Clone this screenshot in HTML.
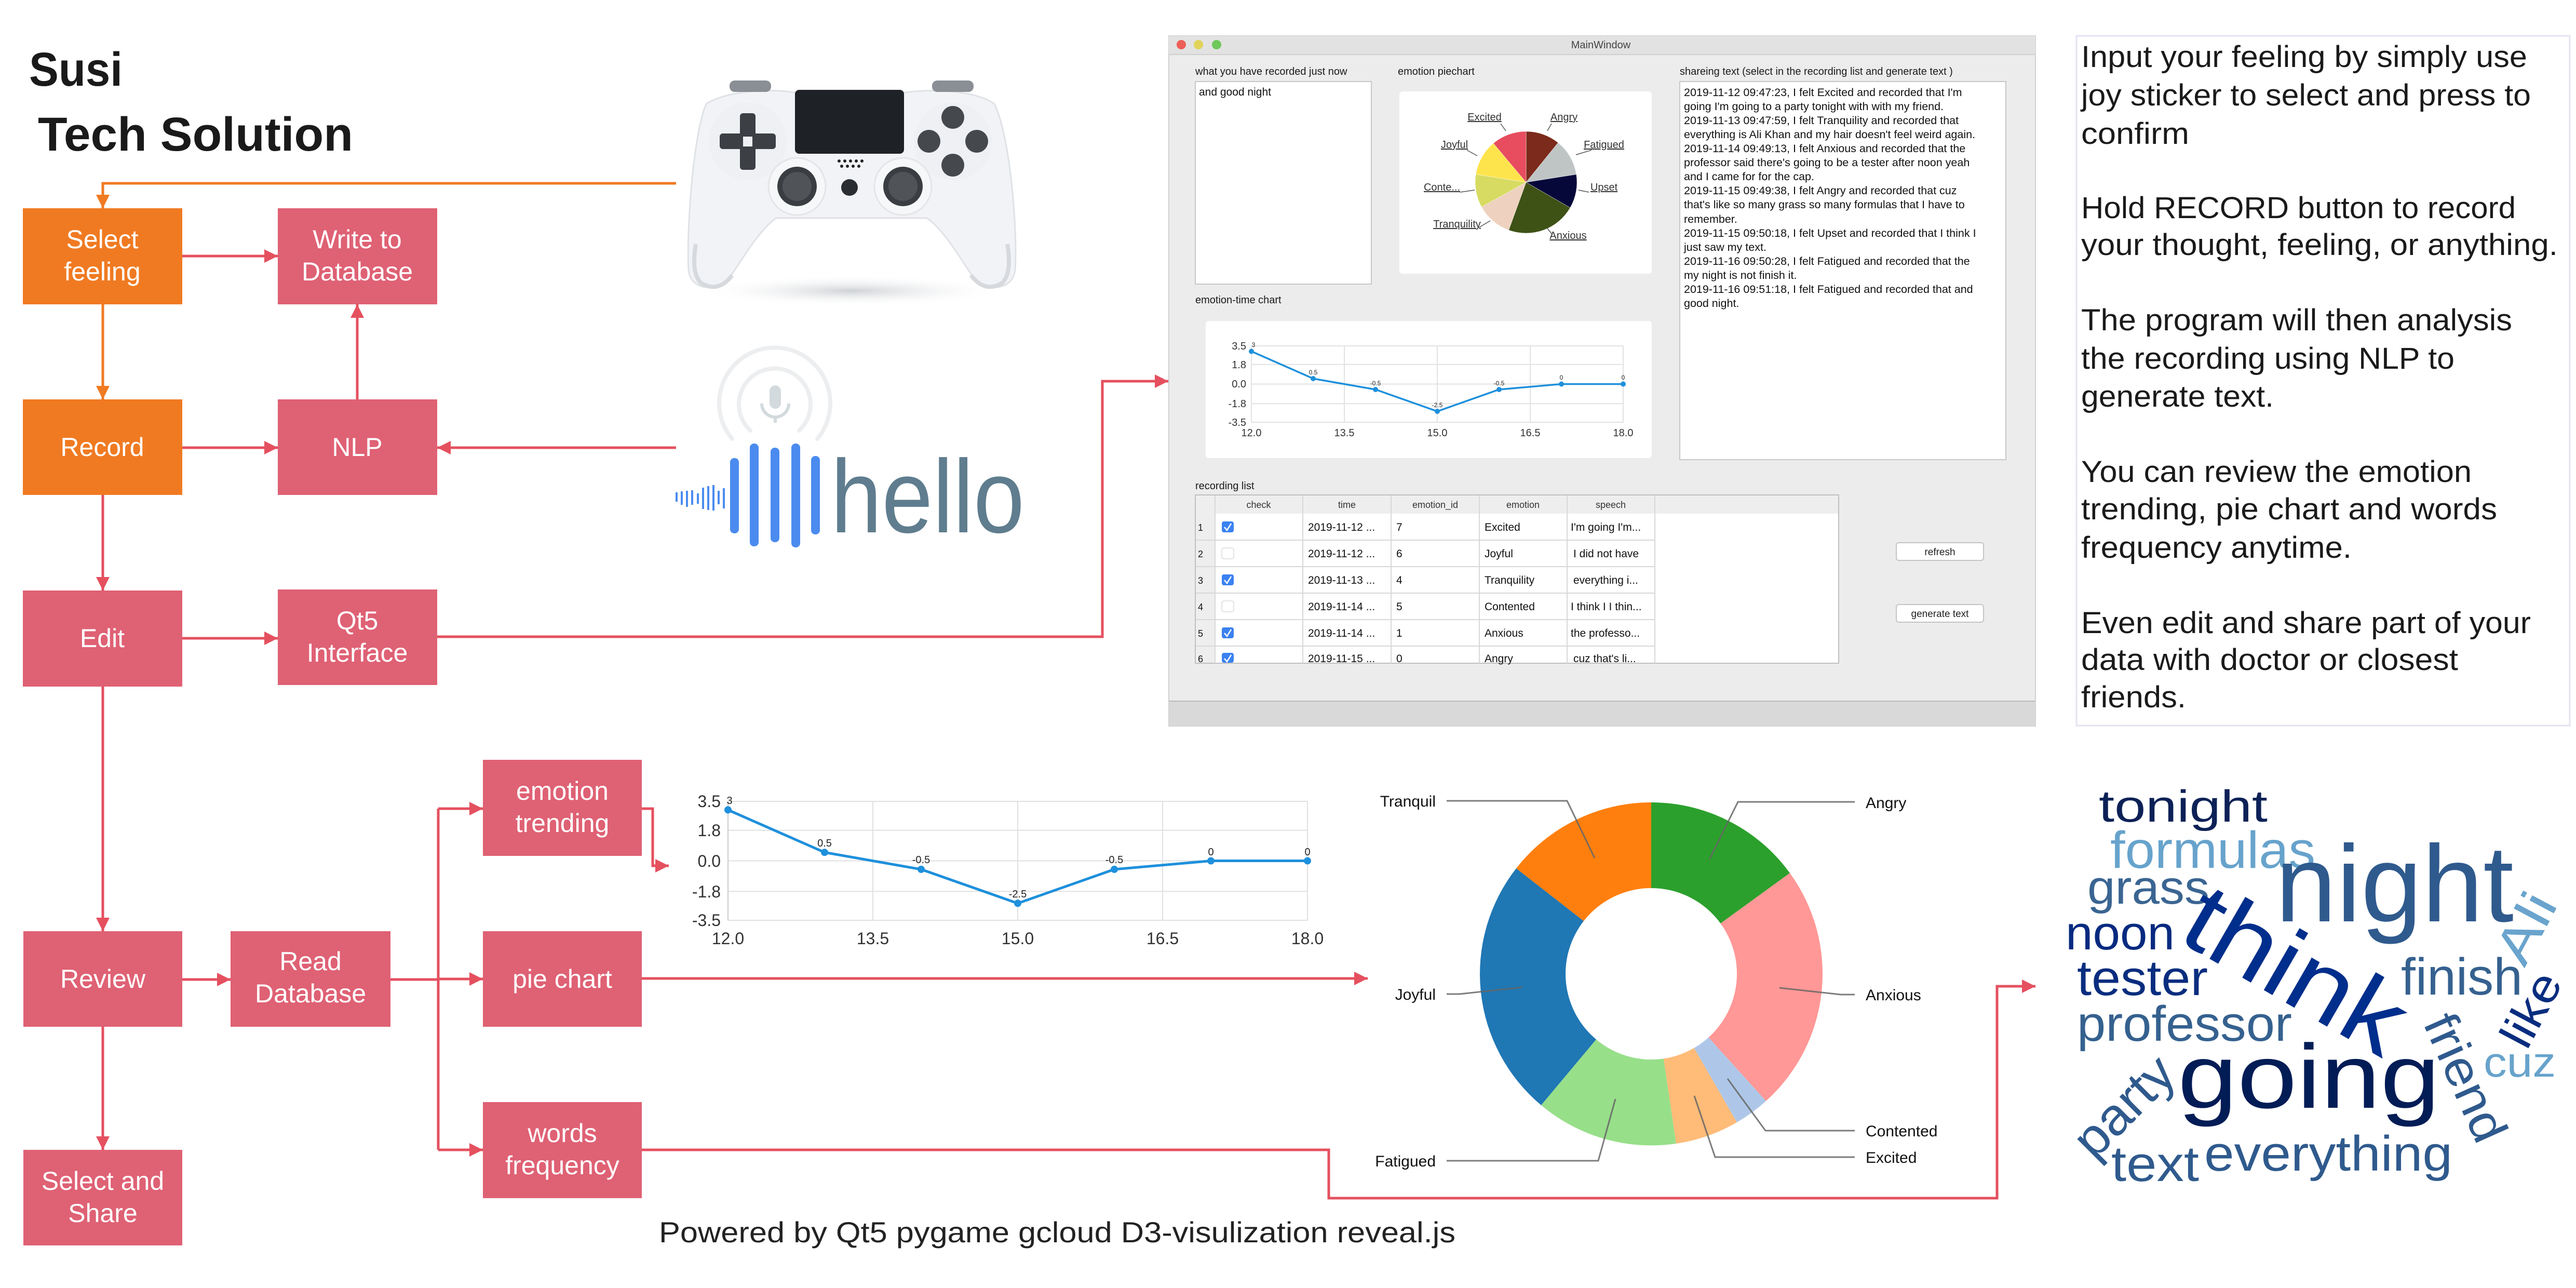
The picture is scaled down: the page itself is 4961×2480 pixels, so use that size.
<!DOCTYPE html>
<html><head><meta charset="utf-8"><style>
html,body{margin:0;padding:0;background:#fff;}
svg{display:block;}
text{font-family:"Liberation Sans",sans-serif;}
</style></head><body>
<svg width="4961" height="2480" viewBox="0 0 4961 2480" xmlns="http://www.w3.org/2000/svg">
<defs>
<marker id="ap" viewBox="0 0 10 10" refX="10" refY="5" markerWidth="26" markerHeight="30" markerUnits="userSpaceOnUse" orient="auto"><path d="M0,0L10,5L0,10z" fill="#e5505f"/></marker>
<marker id="ao" viewBox="0 0 10 10" refX="10" refY="5" markerWidth="26" markerHeight="30" markerUnits="userSpaceOnUse" orient="auto"><path d="M0,0L10,5L0,10z" fill="#f07a22"/></marker>
<radialGradient id="sh" cx="0.5" cy="0.5" r="0.5"><stop offset="0" stop-color="#cfd2d6"/><stop offset="1" stop-color="#fff" stop-opacity="0"/></radialGradient>
</defs>

<!-- Title -->
<text x="56" y="165" font-size="92" font-weight="bold" fill="#1a1a1a" textLength="180" lengthAdjust="spacingAndGlyphs">Susi</text>
<text x="73" y="290" font-size="92" font-weight="bold" fill="#1a1a1a" textLength="607" lengthAdjust="spacingAndGlyphs">Tech Solution</text>

<!-- Connectors -->
<g fill="none" stroke-width="5">
<polyline points="1302,353 198,353 198,401" stroke="#f07a22" marker-end="url(#ao)"/>
<polyline points="198,586 198,769" stroke="#f07a22" marker-end="url(#ao)"/>
<g stroke="#e5505f">
<polyline points="351,493 535,493" marker-end="url(#ap)"/>
<polyline points="688,769 688,586" marker-end="url(#ap)"/>
<polyline points="351,862 535,862" marker-end="url(#ap)"/>
<polyline points="1302,862 842,862" marker-end="url(#ap)"/>
<polyline points="198,953 198,1137" marker-end="url(#ap)"/>
<polyline points="351,1229 535,1229" marker-end="url(#ap)"/>
<polyline points="842,1226 2123,1226 2123,734 2250,734" marker-end="url(#ap)"/>
<polyline points="198,1322 198,1793" marker-end="url(#ap)"/>
<polyline points="198,1977 198,2214" marker-end="url(#ap)"/>
<polyline points="351,1886 444,1886" marker-end="url(#ap)"/>
<polyline points="752,1886 844,1886"/>
<polyline points="844,1557 844,2214"/>
<polyline points="844,1557 930,1557" marker-end="url(#ap)"/>
<polyline points="844,1885 930,1885" marker-end="url(#ap)"/>
<polyline points="844,2214 930,2214" marker-end="url(#ap)"/>
<polyline points="1236,1557 1257,1557 1257,1667 1288,1667" marker-end="url(#ap)"/>
<polyline points="1236,1884 2634,1884" marker-end="url(#ap)"/>
<polyline points="1236,2214 2559,2214 2559,2307 3846,2307 3846,1899 3920,1899" marker-end="url(#ap)"/>
</g>
</g>

<!-- Boxes -->
<g font-size="50" fill="#fff" text-anchor="middle">
<rect x="44" y="401" width="307" height="185" fill="#f07a22"/>
<text x="197" y="478">Select</text><text x="197" y="540">feeling</text>
<rect x="535" y="401" width="307" height="185" fill="#df6174"/>
<text x="688" y="478">Write to</text><text x="688" y="540">Database</text>
<rect x="44" y="769" width="307" height="184" fill="#f07a22"/>
<text x="197" y="878">Record</text>
<rect x="535" y="769" width="307" height="184" fill="#df6174"/>
<text x="688" y="878">NLP</text>
<rect x="44" y="1137" width="307" height="185" fill="#df6174"/>
<text x="197" y="1246">Edit</text>
<rect x="535" y="1135" width="307" height="184" fill="#df6174"/>
<text x="688" y="1212">Qt5</text><text x="688" y="1274">Interface</text>
<rect x="45" y="1793" width="306" height="184" fill="#df6174"/>
<text x="198" y="1902">Review</text>
<rect x="444" y="1793" width="308" height="184" fill="#df6174"/>
<text x="598" y="1868">Read</text><text x="598" y="1930">Database</text>
<rect x="930" y="1463" width="306" height="185" fill="#df6174"/>
<text x="1083" y="1540">emotion</text><text x="1083" y="1602">trending</text>
<rect x="930" y="1793" width="306" height="184" fill="#df6174"/>
<text x="1083" y="1902">pie chart</text>
<rect x="930" y="2122" width="306" height="185" fill="#df6174"/>
<text x="1083" y="2199">words</text><text x="1083" y="2261">frequency</text>
<rect x="45" y="2214" width="306" height="184" fill="#df6174"/>
<text x="198" y="2291">Select and</text><text x="198" y="2353">Share</text>
</g>

<!-- Controller -->
<ellipse cx="1640" cy="560" rx="300" ry="30" fill="url(#sh)"/>
<path d="M1360,200 C1400,175 1480,170 1530,178 L1745,178 C1800,170 1880,175 1915,200 C1945,260 1960,440 1955,520 C1950,560 1900,562 1875,535 C1845,490 1815,440 1785,420 L1495,420 C1465,440 1435,490 1405,535 C1380,562 1330,560 1326,520 C1322,440 1335,260 1360,200 Z" fill="#f2f3f6" stroke="#dfe2e6" stroke-width="3"/>
<path d="M1340,470 C1335,500 1335,530 1350,545 C1375,560 1395,550 1410,530" fill="none" stroke="#d6d9dd" stroke-width="8"/>
<path d="M1940,470 C1945,500 1945,530 1930,545 C1905,560 1885,550 1870,530" fill="none" stroke="#d6d9dd" stroke-width="8"/>
<rect x="1405" y="155" width="80" height="22" rx="10" fill="#8a8f96"/>
<rect x="1795" y="155" width="80" height="22" rx="10" fill="#8a8f96"/>
<rect x="1531" y="173" width="210" height="123" rx="8" fill="#1e2126"/>
<circle cx="1440" cy="272" r="75" fill="#eef0f3"/>
<circle cx="1835" cy="272" r="75" fill="#eef0f3"/>
<g fill="#3c3f44"><rect x="1425" y="218" width="30" height="45" rx="6"/><rect x="1425" y="282" width="30" height="45" rx="6"/><rect x="1386" y="257" width="45" height="30" rx="6"/><rect x="1449" y="257" width="45" height="30" rx="6"/></g>
<g fill="#45484d"><circle cx="1835" cy="226" r="22"/><circle cx="1835" cy="318" r="22"/><circle cx="1789" cy="272" r="22"/><circle cx="1881" cy="272" r="22"/></g>
<circle cx="1535" cy="359" r="55" fill="#f6f7f9" stroke="#e3e5e8" stroke-width="3"/>
<circle cx="1739" cy="359" r="55" fill="#f6f7f9" stroke="#e3e5e8" stroke-width="3"/>
<circle cx="1535" cy="359" r="38" fill="#3a3d42"/><circle cx="1739" cy="359" r="38" fill="#3a3d42"/>
<circle cx="1535" cy="359" r="28" fill="#505358"/><circle cx="1739" cy="359" r="28" fill="#505358"/>
<circle cx="1636" cy="361" r="16" fill="#2a2d32"/>
<g fill="#222"><circle cx="1616" cy="310" r="3"/><circle cx="1627" cy="310" r="3"/><circle cx="1638" cy="310" r="3"/><circle cx="1649" cy="310" r="3"/><circle cx="1660" cy="310" r="3"/><circle cx="1621" cy="320" r="3"/><circle cx="1632" cy="320" r="3"/><circle cx="1643" cy="320" r="3"/><circle cx="1654" cy="320" r="3"/></g>

<!-- Hello graphic -->
<g fill="none" stroke="#eceef0" stroke-width="8" stroke-linecap="round">
<path d="M1410,845 A107,107 0 1 1 1574,845"/>
<path d="M1445,829 A69,69 0 1 1 1539,829"/>
</g>
<rect x="1482" y="742" width="22" height="45" rx="11" fill="#d3dadd"/>
<path d="M1467,777 A26,26 0 0 0 1519,777" fill="none" stroke="#d3dadd" stroke-width="6"/>
<rect x="1490" y="800" width="6" height="14" fill="#d3dadd"/>
<g fill="#4b8bef">
<rect x="1406" y="882" width="17" height="145" rx="8"/>
<rect x="1444" y="854" width="17" height="198" rx="8"/>
<rect x="1484" y="862" width="17" height="182" rx="8"/>
<rect x="1524" y="854" width="17" height="200" rx="8"/>
<rect x="1562" y="878" width="17" height="151" rx="8"/>
<rect x="1301" y="948" width="4" height="18"/><rect x="1311" y="946" width="4" height="26"/><rect x="1321" y="945" width="4" height="31"/><rect x="1331" y="944" width="4" height="28"/><rect x="1342" y="950" width="4" height="20"/><rect x="1352" y="939" width="4" height="41"/><rect x="1362" y="936" width="4" height="46"/><rect x="1372" y="934" width="4" height="49"/><rect x="1382" y="945" width="4" height="26"/><rect x="1392" y="940" width="4" height="39"/>
</g>
<text x="1600" y="1025" font-size="200" fill="#5f7d8e" textLength="373" lengthAdjust="spacingAndGlyphs">hello</text>

<!-- Main window -->
<rect x="2251" y="69" width="1669" height="1329" fill="#ececec" stroke="#d0d0d0" stroke-width="2"/>
<rect x="2251" y="69" width="1669" height="36" fill="#e2e2e2"/>
<line x1="2251" y1="105" x2="3920" y2="105" stroke="#cfcfcf" stroke-width="2"/>
<circle cx="2275" cy="86" r="9" fill="#ec5f57"/><circle cx="2308" cy="86" r="9" fill="#e0d35a"/><circle cx="2343" cy="86" r="9" fill="#6ec85a"/>
<text x="3083" y="93" font-size="20" fill="#444" text-anchor="middle">MainWindow</text>
<rect x="2251" y="1350" width="1669" height="48" fill="#d9d9d9"/>
<line x1="2251" y1="1350" x2="3920" y2="1350" stroke="#bbb" stroke-width="2"/>
<g font-size="20" fill="#1a1a1a">
<text x="2302" y="144">what you have recorded just now</text>
<text x="2692" y="144">emotion piechart</text>
<text x="3235" y="144">shareing text (select in the recording list and generate text )</text>
<text x="2302" y="584">emotion-time chart</text>
<text x="2302" y="942">recording list</text>
</g>
<rect x="2302" y="157" width="339" height="390" fill="#fff" stroke="#c8c8c8" stroke-width="2"/>
<text x="2309" y="184" font-size="21" fill="#111">and good night</text>
<rect x="2695" y="176" width="486" height="351" rx="6" fill="#fff"/>
<g stroke="#fff" stroke-width="0.5">
<path d="M2939,351 L2939,253 A98,98 0 0 1 3000.7,274.8Z" fill="#7c2a1b"/>
<path d="M2939,351 L3000.7,274.8 A98,98 0 0 1 3035.8,335.7Z" fill="#bfc5c5"/>
<path d="M2939,351 L3035.8,335.7 A98,98 0 0 1 3023.9,400Z" fill="#07083a"/>
<path d="M2939,351 L3023.9,400 A98,98 0 0 1 2905.5,443.1Z" fill="#3e5216"/>
<path d="M2939,351 L2905.5,443.1 A98,98 0 0 1 2853.3,398.5Z" fill="#eed1be"/>
<path d="M2939,351 L2853.3,398.5 A98,98 0 0 1 2842.2,335.7Z" fill="#d7db62"/>
<path d="M2939,351 L2842.2,335.7 A98,98 0 0 1 2876,275.9Z" fill="#fde44c"/>
<path d="M2939,351 L2876,275.9 A98,98 0 0 1 2939,253Z" fill="#e74d5e"/>
</g>
<g font-size="20" fill="#333" text-anchor="middle" text-decoration="underline">
<text x="2859" y="232">Excited</text><text x="3012" y="232">Angry</text>
<text x="2801" y="285">Joyful</text><text x="3089" y="285">Fatigued</text>
<text x="2777" y="367">Conte...</text><text x="3089" y="367">Upset</text>
<text x="2806" y="438">Tranquility</text><text x="3020" y="460">Anxious</text>
</g>
<g stroke="#555" stroke-width="1.5" fill="none">
<line x1="2890" y1="238" x2="2900" y2="252"/><line x1="2988" y1="238" x2="2980" y2="252"/>
<line x1="2825" y1="289" x2="2845" y2="300"/><line x1="3065" y1="289" x2="3035" y2="298"/>
<line x1="2812" y1="370" x2="2840" y2="366"/><line x1="3060" y1="370" x2="3040" y2="366"/>
<line x1="2845" y1="440" x2="2870" y2="425"/><line x1="2990" y1="452" x2="2980" y2="440"/>
</g>
<!-- window line chart -->
<rect x="2322" y="618" width="859" height="264" rx="6" fill="#fff"/>
<g stroke="#e2e2e2" stroke-width="2">
<line x1="2410" y1="666" x2="3126" y2="666"/><line x1="2410" y1="701.7" x2="3126" y2="701.7"/><line x1="2410" y1="739.5" x2="3126" y2="739.5"/><line x1="2410" y1="777.3" x2="3126" y2="777.3"/><line x1="2410" y1="813" x2="3126" y2="813"/>
<line x1="2410" y1="666" x2="2410" y2="813"/><line x1="2589" y1="666" x2="2589" y2="813"/><line x1="2768" y1="666" x2="2768" y2="813"/><line x1="2947" y1="666" x2="2947" y2="813"/><line x1="3126" y1="666" x2="3126" y2="813"/>
</g>
<polyline points="2410,676.5 2529,729 2649,750 2768,792 2887,750 3007,739.5 3126,739.5" fill="none" stroke="#1e90dc" stroke-width="3.5"/>
<g fill="#1e90dc"><circle cx="2410" cy="676.5" r="5"/><circle cx="2529" cy="729" r="5"/><circle cx="2649" cy="750" r="5"/><circle cx="2768" cy="792" r="5"/><circle cx="2887" cy="750" r="5"/><circle cx="3007" cy="739.5" r="5"/><circle cx="3126" cy="739.5" r="5"/></g>
<g font-size="20" fill="#333" text-anchor="end">
<text x="2400" y="673">3.5</text><text x="2400" y="709">1.8</text><text x="2400" y="746">0.0</text><text x="2400" y="784">-1.8</text><text x="2400" y="820">-3.5</text></g>
<g font-size="20" fill="#333" text-anchor="middle">
<text x="2410" y="840">12.0</text><text x="2589" y="840">13.5</text><text x="2768" y="840">15.0</text><text x="2947" y="840">16.5</text><text x="3126" y="840">18.0</text></g>
<g font-size="12" fill="#222" text-anchor="middle">
<text x="2414" y="668">3</text><text x="2529" y="721">0.5</text><text x="2649" y="742">-0.5</text><text x="2768" y="784">-2.5</text><text x="2887" y="742">-0.5</text><text x="3007" y="731">0</text><text x="3126" y="731">0</text></g>
<!-- sharing text -->
<rect x="3235" y="157" width="628" height="728" fill="#fff" stroke="#c8c8c8" stroke-width="2"/>
<g font-size="21.5" fill="#111">
<text x="3243" y="185">2019-11-12 09:47:23, I felt Excited and recorded that I'm</text>
<text x="3243" y="212">going I'm going to a party tonight with with my friend.</text>
<text x="3243" y="239">2019-11-13 09:47:59, I felt Tranquility and recorded that</text>
<text x="3243" y="266">everything is Ali Khan and my hair doesn't feel weird again.</text>
<text x="3243" y="293">2019-11-14 09:49:13, I felt Anxious and recorded that the</text>
<text x="3243" y="320">professor said there's going to be a tester after noon yeah</text>
<text x="3243" y="347">and I came for for the cap.</text>
<text x="3243" y="374">2019-11-15 09:49:38, I felt Angry and recorded that  cuz</text>
<text x="3243" y="401">that's like so many grass so many formulas that I have to</text>
<text x="3243" y="429">remember.</text>
<text x="3243" y="456">2019-11-15 09:50:18, I felt Upset and recorded that I think I</text>
<text x="3243" y="483">just saw my text.</text>
<text x="3243" y="510">2019-11-16 09:50:28, I felt Fatigued and recorded that  the</text>
<text x="3243" y="537">my night is not finish it.</text>
<text x="3243" y="564">2019-11-16 09:51:18, I felt Fatigued and recorded that and</text>
<text x="3243" y="591">good night.</text>
</g>
<!-- table -->
<rect x="2302" y="953" width="1239" height="324" fill="#fff" stroke="#c0c0c0" stroke-width="2"/>
<rect x="2303" y="954" width="1237" height="35" fill="#eeeeee"/>
<rect x="2303" y="989" width="37" height="287" fill="#eeeeee"/>
<g stroke="#d8d8d8" stroke-width="2">
<line x1="2340" y1="954" x2="2340" y2="1277"/><line x1="2509" y1="954" x2="2509" y2="1277"/><line x1="2679" y1="954" x2="2679" y2="1277"/><line x1="2849" y1="954" x2="2849" y2="1277"/><line x1="3018" y1="954" x2="3018" y2="1277"/><line x1="3187" y1="954" x2="3187" y2="1277"/>
<line x1="2303" y1="1040" x2="3187" y2="1040"/><line x1="2303" y1="1091" x2="3187" y2="1091"/><line x1="2303" y1="1142" x2="3187" y2="1142"/><line x1="2303" y1="1193" x2="3187" y2="1193"/><line x1="2303" y1="1244" x2="3187" y2="1244"/>
</g>
<g font-size="18" fill="#333" text-anchor="middle">
<text x="2424" y="978">check</text><text x="2594" y="978">time</text><text x="2764" y="978">emotion_id</text><text x="2933" y="978">emotion</text><text x="3102" y="978">speech</text></g>
<g font-size="21" fill="#111">
<text x="2307" y="1022" font-size="18">1</text><text x="2519" y="1022">2019-11-12 ...</text><text x="2689" y="1022">7</text><text x="2859" y="1022">Excited</text><text x="3025" y="1022">I'm going I'm...</text>
<text x="2307" y="1073" font-size="18">2</text><text x="2519" y="1073">2019-11-12 ...</text><text x="2689" y="1073">6</text><text x="2859" y="1073">Joyful</text><text x="3030" y="1073">I did not have</text>
<text x="2307" y="1124" font-size="18">3</text><text x="2519" y="1124">2019-11-13 ...</text><text x="2689" y="1124">4</text><text x="2859" y="1124">Tranquility</text><text x="3030" y="1124">everything i...</text>
<text x="2307" y="1175" font-size="18">4</text><text x="2519" y="1175">2019-11-14 ...</text><text x="2689" y="1175">5</text><text x="2859" y="1175">Contented</text><text x="3025" y="1175">I think I I thin...</text>
<text x="2307" y="1226" font-size="18">5</text><text x="2519" y="1226">2019-11-14 ...</text><text x="2689" y="1226">1</text><text x="2859" y="1226">Anxious</text><text x="3025" y="1226">the professo...</text>
<text x="2307" y="1275" font-size="18">6</text><text x="2519" y="1275">2019-11-15 ...</text><text x="2689" y="1275">0</text><text x="2859" y="1275">Angry</text><text x="3030" y="1275">cuz that's li...</text>
</g>
<g>
<rect x="2353" y="1004" width="23" height="21" rx="4" fill="#3b82f0"/><rect x="2353" y="1055" width="23" height="21" rx="4" fill="#fff" stroke="#c8c8c8"/><rect x="2353" y="1106" width="23" height="21" rx="4" fill="#3b82f0"/><rect x="2353" y="1157" width="23" height="21" rx="4" fill="#fff" stroke="#c8c8c8"/><rect x="2353" y="1208" width="23" height="21" rx="4" fill="#3b82f0"/><rect x="2353" y="1257" width="23" height="19" rx="4" fill="#3b82f0"/>
<g stroke="#fff" stroke-width="2.5" fill="none"><polyline points="2358,1015 2363,1021 2371,1008"/><polyline points="2358,1117 2363,1123 2371,1110"/><polyline points="2358,1219 2363,1225 2371,1212"/><polyline points="2358,1268 2363,1274 2371,1261"/></g>
</g>
<rect x="3652" y="1045" width="168" height="34" rx="5" fill="#fff" stroke="#c4c4c4" stroke-width="2"/>
<text x="3736" y="1069" font-size="19" fill="#222" text-anchor="middle">refresh</text>
<rect x="3652" y="1164" width="168" height="34" rx="5" fill="#fff" stroke="#c4c4c4" stroke-width="2"/>
<text x="3736" y="1188" font-size="19" fill="#222" text-anchor="middle">generate text</text>

<!-- Right description -->
<rect x="3999" y="69" width="950" height="1328" fill="#fff" stroke="#e3e3f2" stroke-width="3"/>
<g font-size="58" fill="#1a1a1a" lengthAdjust="spacingAndGlyphs">
<text x="4008" y="129" textLength="859" lengthAdjust="spacingAndGlyphs">Input your feeling by simply use</text>
<text x="4008" y="203" textLength="866" lengthAdjust="spacingAndGlyphs">joy sticker to select and press to</text>
<text x="4008" y="277" textLength="208" lengthAdjust="spacingAndGlyphs">confirm</text>
<text x="4008" y="420" textLength="837" lengthAdjust="spacingAndGlyphs">Hold RECORD button to record</text>
<text x="4008" y="491" textLength="918" lengthAdjust="spacingAndGlyphs">your thought, feeling, or anything.</text>
<text x="4008" y="636" textLength="830" lengthAdjust="spacingAndGlyphs">The program will then analysis</text>
<text x="4008" y="710" textLength="719" lengthAdjust="spacingAndGlyphs">the recording using NLP to</text>
<text x="4008" y="783" textLength="371" lengthAdjust="spacingAndGlyphs">generate text.</text>
<text x="4008" y="928" textLength="752" lengthAdjust="spacingAndGlyphs">You can review the emotion</text>
<text x="4008" y="1000" textLength="801" lengthAdjust="spacingAndGlyphs">trending, pie chart and words</text>
<text x="4008" y="1074" textLength="521" lengthAdjust="spacingAndGlyphs">frequency anytime.</text>
<text x="4008" y="1219" textLength="866" lengthAdjust="spacingAndGlyphs">Even edit and share part of your</text>
<text x="4008" y="1290" textLength="726" lengthAdjust="spacingAndGlyphs">data with doctor or closest</text>
<text x="4008" y="1362" textLength="202" lengthAdjust="spacingAndGlyphs">friends.</text>
</g>

<!-- Bottom line chart -->
<g stroke="#e0e0e0" stroke-width="2">
<line x1="1402" y1="1543" x2="2518" y2="1543"/><line x1="1402" y1="1598.6" x2="2518" y2="1598.6"/><line x1="1402" y1="1657.5" x2="2518" y2="1657.5"/><line x1="1402" y1="1716.4" x2="2518" y2="1716.4"/><line x1="1402" y1="1772" x2="2518" y2="1772"/>
<line x1="1681" y1="1543" x2="1681" y2="1772"/><line x1="1960" y1="1543" x2="1960" y2="1772"/><line x1="2239" y1="1543" x2="2239" y2="1772"/><line x1="2518" y1="1543" x2="2518" y2="1772"/>
</g>
<line x1="1402" y1="1543" x2="1402" y2="1772" stroke="#ccc" stroke-width="2"/>
<polyline points="1402,1559.4 1588,1641.2 1774,1673.9 1960,1739.3 2146,1673.9 2332,1657.5 2518,1657.5" fill="none" stroke="#1e90dc" stroke-width="5"/>
<g fill="#1e90dc"><circle cx="1402" cy="1559.4" r="7"/><circle cx="1588" cy="1641.2" r="7"/><circle cx="1774" cy="1673.9" r="7"/><circle cx="1960" cy="1739.3" r="7"/><circle cx="2146" cy="1673.9" r="7"/><circle cx="2332" cy="1657.5" r="7"/><circle cx="2518" cy="1657.5" r="7"/></g>
<g font-size="32" fill="#333" text-anchor="end">
<text x="1388" y="1554">3.5</text><text x="1388" y="1610">1.8</text><text x="1388" y="1669">0.0</text><text x="1388" y="1728">-1.8</text><text x="1388" y="1783">-3.5</text></g>
<g font-size="32" fill="#333" text-anchor="middle">
<text x="1402" y="1818">12.0</text><text x="1681" y="1818">13.5</text><text x="1960" y="1818">15.0</text><text x="2239" y="1818">16.5</text><text x="2518" y="1818">18.0</text></g>
<g font-size="20" fill="#222" text-anchor="middle">
<text x="1405" y="1548">3</text><text x="1588" y="1630">0.5</text><text x="1774" y="1662">-0.5</text><text x="1960" y="1728">-2.5</text><text x="2146" y="1662">-0.5</text><text x="2332" y="1647">0</text><text x="2518" y="1647">0</text></g>

<text x="1269" y="2392" font-size="56" fill="#222" textLength="1534" lengthAdjust="spacingAndGlyphs">Powered by Qt5 pygame gcloud D3-visulization  reveal.js</text>

<!-- Donut -->
<path d="M3180,1545 A330,330 0 0 1 3447,1681 L3313.5,1778 A165,165 0 0 0 3180,1710Z" fill="#2ca02c"/>
<path d="M3447,1681 A330,330 0 0 1 3401,2120 L3290.4,1997.6 A165,165 0 0 0 3313.5,1778Z" fill="#ff9896"/>
<path d="M3401,2120 A330,330 0 0 1 3345,2161 L3262.5,2017.9 A165,165 0 0 0 3290.4,1997.6Z" fill="#aec7e8"/>
<path d="M3345,2161 A330,330 0 0 1 3228,2202 L3203.8,2038.4 A165,165 0 0 0 3262.5,2017.9Z" fill="#ffbb78"/>
<path d="M3228,2202 A330,330 0 0 1 2968,2128 L3074,2001.4 A165,165 0 0 0 3203.8,2038.4Z" fill="#98df8a"/>
<path d="M2968,2128 A330,330 0 0 1 2920,1672 L3050,1773.4 A165,165 0 0 0 3074,2001.4Z" fill="#1f77b4"/>
<path d="M2920,1672 A330,330 0 0 1 3180,1545 L3180,1710 A165,165 0 0 0 3050,1773.4Z" fill="#ff7f0e"/>
<g fill="none" stroke="#666" stroke-width="3" opacity="0.85">
<polyline points="2786,1542 3018,1542 3071,1652"/>
<polyline points="3572,1544 3347,1544 3292,1655"/>
<polyline points="2786,1914 2811,1914 2931,1901"/>
<polyline points="3572,1915 3545,1915 3427,1902"/>
<polyline points="3572,2177 3400,2177 3327,2077"/>
<polyline points="3572,2228 3303,2228 3263,2110"/>
<polyline points="2786,2235 3078,2235 3111,2116"/>
</g>
<g font-size="30" fill="#111">
<text x="2765" y="1553" text-anchor="end">Tranquil</text>
<text x="3593" y="1556">Angry</text>
<text x="2765" y="1925" text-anchor="end">Joyful</text>
<text x="3593" y="1926">Anxious</text>
<text x="3593" y="2188">Contented</text>
<text x="3593" y="2239">Excited</text>
<text x="2765" y="2246" text-anchor="end">Fatigued</text>
</g>

<!-- Word cloud -->
<g>
<text x="4042" y="1582" font-size="86" fill="#0d2157" textLength="325" lengthAdjust="spacingAndGlyphs">tonight</text>
<text x="4064" y="1671" font-size="100" fill="#67a3cc" textLength="395" lengthAdjust="spacingAndGlyphs">formulas</text>
<text x="4020" y="1740" font-size="92" fill="#3a6592" textLength="235" lengthAdjust="spacingAndGlyphs">grass</text>
<text x="4382" y="1774" font-size="210" fill="#2f5a8d" textLength="459" lengthAdjust="spacingAndGlyphs">night</text>
<text x="3978" y="1828" font-size="92" fill="#072a80" textLength="210" lengthAdjust="spacingAndGlyphs">noon</text>
<text x="4000" y="1916" font-size="96" fill="#092d7f" textLength="252" lengthAdjust="spacingAndGlyphs">tester</text>
<text x="4000" y="2004" font-size="96" fill="#35618f" textLength="414" lengthAdjust="spacingAndGlyphs">professor</text>
<text x="4194" y="2133" font-size="175" fill="#021c56" textLength="505" lengthAdjust="spacingAndGlyphs">going</text>
<text x="4624" y="1915" font-size="100" fill="#35618f" textLength="234" lengthAdjust="spacingAndGlyphs">finish</text>
<text x="4783" y="2073" font-size="82" fill="#67a3cc" textLength="139" lengthAdjust="spacingAndGlyphs">cuz</text>
<text x="4066" y="2274" font-size="96" fill="#2f5a8d" textLength="169" lengthAdjust="spacingAndGlyphs">text</text>
<text x="4245" y="2254" font-size="96" fill="#2f5a8d" textLength="478" lengthAdjust="spacingAndGlyphs">everything</text>
<text transform="translate(4414,1880) rotate(30)" x="0" y="50" font-size="190" fill="#002e8c" text-anchor="middle" textLength="460" lengthAdjust="spacingAndGlyphs">think</text>
<text transform="translate(4868,1789) rotate(-62)" x="0" y="30" font-size="100" fill="#6aa4cd" text-anchor="middle" textLength="140" lengthAdjust="spacingAndGlyphs">Ali</text>
<text transform="translate(4875,1944) rotate(-62)" x="0" y="30" font-size="90" fill="#092d7f" text-anchor="middle" textLength="150" lengthAdjust="spacingAndGlyphs">like</text>
<text transform="translate(4746,2076) rotate(66)" x="0" y="30" font-size="95" fill="#2f5a8d" text-anchor="middle" textLength="260" lengthAdjust="spacingAndGlyphs">friend</text>
<text transform="translate(4093,2133) rotate(-45)" x="0" y="30" font-size="100" fill="#2f5a8d" text-anchor="middle" textLength="230" lengthAdjust="spacingAndGlyphs">party</text>
</g>
</svg>
</body></html>
